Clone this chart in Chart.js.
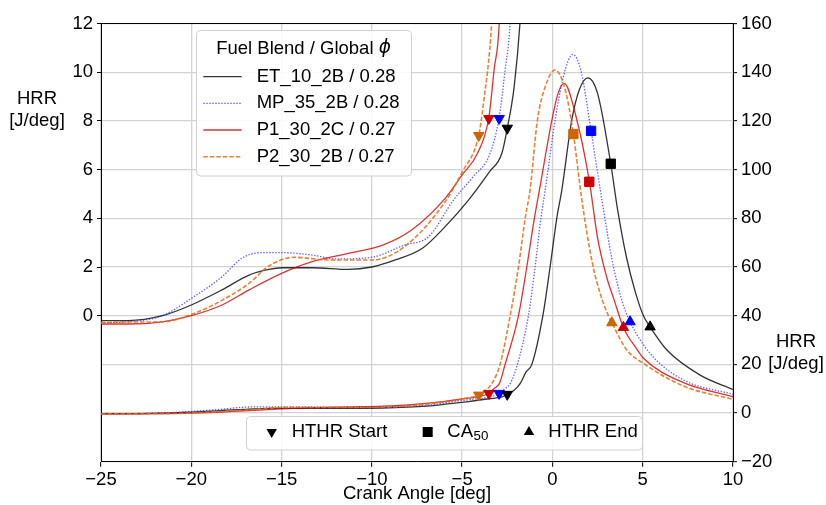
<!DOCTYPE html>
<html><head><meta charset="utf-8">
<script src="https://cdn.jsdelivr.net/npm/chart.js@4/dist/chart.umd.min.js"></script>
<style>html,body{margin:0;padding:0;background:#fff;}#wrap{width:826px;height:505px;}</style>
</head><body><div id="wrap"><canvas id="c" width="826" height="505"></canvas></div>
<script>
const FONT = '"Liberation Sans", Arial, Helvetica, sans-serif';
const FS = 18.5;

const fuelNames = ['ET_10_2B', 'MP_35_2B', 'P1_30_2C', 'P2_30_2B'];
const globalPhi = ['0.28', '0.28', '0.27', '0.27'];

const etAngle = [-25, -23.5, -21.6, -20, -18.3, -16.8, -15.7, -15, -13.3, -11.3, -10, -8.7, -7.2, -5.94, -4.65, -3.5, -2.8, -2.5, -2.12, -1.79, -1.45, -1.14, -0.53, -0.13, 0.24, 0.52, 1.07, 1.5, 1.96, 2.5, 3.23, 3.6, 4.1, 4.6, 5.04, 5.41, 6.34, 8.18, 10];
const etHRR = [-0.2, -0.2, 0, 0.44, 1.06, 1.67, 1.9, 1.97, 1.97, 1.9, 2.0, 2.29, 2.77, 3.66, 4.75, 5.9, 6.67, 7.7, 9.4, 12.1, 17, 20, 40, 60, 80, 91.6, 120.3, 133, 137.7, 131.3, 102.4, 84, 64, 49.5, 40, 35.4, 25.9, 15.6, 9.7];

const mpAngle = [-25, -23.5, -21.6, -20, -18.3, -17.2, -16.1, -15, -13.3, -12, -10, -8.2, -6.85, -5.48, -4.4, -3.45, -2.95, -2.62, -2.34, -1.94, -1.33, -0.96, -0.64, -0.4, 0.15, 0.6, 1.13, 1.6, 2.14, 2.74, 3.3, 3.84, 4.3, 5.41, 7.26, 10];
const mpHRR = [-0.29, -0.25, 0, 0.71, 1.6, 2.36, 2.59, 2.59, 2.49, 2.33, 2.4, 2.9, 3.25, 4.75, 5.7, 6.67, 8.15, 10.1, 12.1, 20, 40, 60, 80, 91.6, 120.3, 138, 147.3, 140, 115.9, 87.5, 63, 46.4, 37.5, 24.5, 13.6, 7.7];

const p1Angle = [-25, -23.5, -21.6, -20, -18.3, -16.8, -15, -13.3, -11.3, -9.4, -7.8, -5.94, -5.0, -4.15, -3.52, -3.23, -2.94, -2.62, -1.88, -1.42, -1.0, -0.72, -0.03, 0.3, 0.65, 1.3, 2.05, 2.5, 3.0, 3.42, 3.93, 4.71, 5.04, 7.26, 10];
const p1HRR = [-0.34, -0.34, -0.25, 0, 0.44, 1.06, 1.74, 2.22, 2.56, 2.9, 3.52, 4.82, 5.78, 6.67, 8.15, 10.1, 12.1, 20, 40, 60, 80, 91.6, 120.3, 131, 135.4, 122, 95, 72, 56, 46.4, 35.2, 25.9, 22.5, 12.5, 6.7];

const p2Angle = [-25, -23.5, -21.6, -20, -18.3, -16.8, -15.7, -14.3, -12.4, -10, -8.2, -5.94, -5.0, -4.08, -3.82, -3.36, -2.9, -2.34, -1.88, -1.51, -1.24, -0.83, -0.4, 0.15, 0.7, 1.16, 1.63, 2.2, 2.65, 3.1, 3.29, 4.12, 5.04, 7.26, 10];
const p2HRR = [-0.29, -0.26, -0.25, 0.05, 0.63, 1.33, 2.04, 2.4, 2.29, 2.29, 2.83, 4.68, 5.9, 7.42, 8.72, 12.1, 20, 40, 60, 80, 91.6, 120.3, 134, 140.9, 133, 114.6, 87.5, 62, 49, 40, 37.1, 25.9, 20.4, 11.1, 5.6];

const hthrStartAngle = [-2.5, -2.95, -3.52, -4.08];
const hthrStartHRR = [7.7, 8.1, 8.1, 7.4];
const ca50Angle = [3.23, 2.14, 2.04, 1.16];
const ca50HRR = [102.4, 115.9, 95, 114.6];
const hthrEndAngle = [5.41, 4.3, 3.93, 3.29];
const hthrEndHRR = [35.4, 37.5, 35.2, 37.1];

const xTickValues = [-25, -20, -15, -10, -5, 0, 5, 10];
const leftTickValues = [0, 2, 4, 6, 8, 10, 12];
const rightTickValues = [-20, 0, 20, 40, 60, 80, 100, 120, 140, 160];

const angles = [etAngle, mpAngle, p1Angle, p2Angle];
const hrrs = [etHRR, mpHRR, p1HRR, p2HRR];
const lineColors = ['rgba(0,0,0,0.8)', 'rgba(40,40,255,0.75)', 'rgba(210,0,0,0.8)', 'rgba(225,110,20,0.85)'];
const markerColors = ['#000000', '#0000ff', '#cc0000', '#cc6600'];
const dashes = [[], [1.4, 1.6], [], [4.5, 2]];
const widths = [1.3, 1.3, 1.3, 1.6];

function pts(xs, ys, filt) {
  const out = [];
  for (let i = 0; i < xs.length; i++) if (!filt || filt(xs[i])) out.push({x: xs[i], y: ys[i]});
  return out;
}
function markerDs(x, y, axis, color, style, rot, r) {
  return {data: [{x: x, y: y}], yAxisID: axis, showLine: false, pointStyle: style, rotation: rot,
    pointRadius: r, pointBackgroundColor: color, pointBorderColor: color, pointBorderWidth: 1,
    borderColor: color, backgroundColor: color};
}

const datasets = [];
for (let i = 0; i < 4; i++) {
  datasets.push(markerDs(hthrStartAngle[i], hthrStartHRR[i], 'yL', markerColors[i], 'triangle', 180, 6));
  datasets.push(markerDs(hthrStartAngle[i], hthrStartHRR[i], 'yR', markerColors[i], 'triangle', 180, 6));
  datasets.push(markerDs(ca50Angle[i], ca50HRR[i], 'yR', markerColors[i], 'rect', 0, 6.6));
  datasets.push(markerDs(hthrEndAngle[i], hthrEndHRR[i], 'yR', markerColors[i], 'triangle', 0, 6));
}
for (let i = 3; i >= 0; i--) {
  const common = {borderColor: lineColors[i], borderWidth: widths[i], borderDash: dashes[i], pointRadius: 0,
    fill: false, cubicInterpolationMode: 'monotone', borderCapStyle: 'butt'};
  datasets.push(Object.assign({label: fuelNames[i], data: pts(angles[i], hrrs[i], v => v < -1), yAxisID: 'yL'}, common));
  datasets.push(Object.assign({label: fuelNames[i], data: pts(angles[i], hrrs[i]), yAxisID: 'yR'}, common));
}

function fmt(v) { return v < 0 ? '\u2212' + Math.abs(v) : String(v); }

function tri(ctx, x, y, r, down) {
  ctx.beginPath();
  const s = down ? -1 : 1;
  ctx.moveTo(x, y - s * r);
  ctx.lineTo(x + r * 0.866, y + s * r * 0.5);
  ctx.lineTo(x - r * 0.866, y + s * r * 0.5);
  ctx.closePath();
  ctx.fill();
}
function rrect(ctx, x, y, w, h, r) {
  ctx.beginPath();
  ctx.moveTo(x + r, y); ctx.lineTo(x + w - r, y); ctx.arcTo(x + w, y, x + w, y + r, r);
  ctx.lineTo(x + w, y + h - r); ctx.arcTo(x + w, y + h, x + w - r, y + h, r);
  ctx.lineTo(x + r, y + h); ctx.arcTo(x, y + h, x, y + h - r, r);
  ctx.lineTo(x, y + r); ctx.arcTo(x, y, x + r, y, r); ctx.closePath();
}

const decor = {
  id: 'decor',
  afterDraw(chart) {
    const ctx = chart.ctx, a = chart.chartArea;
    ctx.save();
    ctx.strokeStyle = '#000'; ctx.lineWidth = 1;
    ctx.beginPath(); ctx.moveTo(a.left, a.top); ctx.lineTo(a.right, a.top); ctx.stroke();
    ctx.fillStyle = '#000';
    ctx.font = FS + 'px ' + FONT;
    ctx.textAlign = 'center'; ctx.textBaseline = 'middle';
    ctx.fillText('HRR', 37, 99.3);
    ctx.fillText('[J/deg]', 37, 120.5);
    ctx.fillText('HRR', 796, 341.5);
    ctx.fillText('[J/deg]', 796, 363.5);
    ctx.fillText('Crank Angle [deg]', 417, 493.5);

    rrect(ctx, 196.5, 30.5, 215, 145.5, 4);
    ctx.fillStyle = 'rgba(255,255,255,0.85)'; ctx.fill();
    ctx.strokeStyle = '#d0d0d0'; ctx.lineWidth = 1; ctx.stroke();
    ctx.fillStyle = '#000';
    ctx.textAlign = 'left';
    const t1 = 'Fuel Blend / Global ';
    ctx.font = FS + 'px ' + FONT;
    const w1 = ctx.measureText(t1).width;
    ctx.font = 'italic ' + FS + 'px "DejaVu Sans", sans-serif';
    const w2 = ctx.measureText('\u03D5').width;
    const sx = 303.5 - (w1 + w2) / 2;
    ctx.font = FS + 'px ' + FONT;
    ctx.fillText(t1, sx, 48.5);
    ctx.font = 'italic ' + FS + 'px "DejaVu Sans", sans-serif';
    ctx.fillText('\u03D5', sx + w1, 48.5);
    ctx.font = FS + 'px ' + FONT;
    const rows = [76.7, 103.3, 130, 156.7];
    for (let i = 0; i < 4; i++) {
      ctx.save();
      ctx.strokeStyle = lineColors[i]; ctx.lineWidth = widths[i]; ctx.setLineDash(dashes[i]);
      ctx.beginPath(); ctx.moveTo(203.3, rows[i]); ctx.lineTo(241.7, rows[i]); ctx.stroke();
      ctx.restore();
      ctx.fillText(fuelNames[i] + ' / ' + globalPhi[i], 256.7, rows[i]);
    }

    rrect(ctx, 246.5, 416.5, 396, 33.5, 4);
    ctx.fillStyle = 'rgba(255,255,255,0.85)'; ctx.fill();
    ctx.strokeStyle = '#d0d0d0'; ctx.stroke();
    ctx.fillStyle = '#000';
    const ly = 432;
    tri(ctx, 271.7, ly, 6, true);
    ctx.fillText('HTHR Start', 291.7, ly);
    ctx.fillRect(427.7 - 5, ly - 5, 10, 10);
    ctx.fillText('CA', 447.3, ly);
    const wca = ctx.measureText('CA').width;
    ctx.font = (FS * 0.72) + 'px ' + FONT;
    ctx.fillText('50', 447.3 + wca + 0.5, ly + 4);
    ctx.font = FS + 'px ' + FONT;
    tri(ctx, 529, ly, 6, false);
    ctx.fillText('HTHR End', 548.3, ly);
    ctx.restore();
  }
};

const tickFont = {family: FONT, size: FS};
new Chart(document.getElementById('c'), {
  type: 'line',
  data: {datasets: datasets},
  plugins: [decor],
  options: {
    responsive: false, animation: false, devicePixelRatio: 1, events: [],
    layout: {padding: {top: 23.5, left: 0, right: 0, bottom: 0}},
    plugins: {legend: {display: false}, tooltip: {enabled: false}, title: {display: false}},
    scales: {
      x: {type: 'linear', min: -25, max: 10,
        afterBuildTicks: s => { s.ticks = xTickValues.map(v => ({value: v})); },
        afterFit: s => { s.height = 43.2; },
        ticks: {font: tickFont, color: '#000', padding: 2, maxRotation: 0, autoSkip: false, callback: v => fmt(v)},
        grid: {color: '#d3d3d3', lineWidth: 1.3, tickColor: '#000', tickLength: 5, tickWidth: 1},
        border: {display: true, color: '#000', width: 1}},
      yL: {type: 'linear', position: 'left', min: -6, max: 12,
        afterBuildTicks: s => { s.ticks = leftTickValues.map(v => ({value: v})); },
        afterFit: s => { s.width = 101; },
        ticks: {font: tickFont, color: '#000', padding: 4, autoSkip: false, callback: v => fmt(v)},
        grid: {drawOnChartArea: false, color: '#d3d3d3', tickColor: '#000', tickLength: 4, tickWidth: 1},
        border: {display: true, color: '#000', width: 1}},
      yR: {type: 'linear', position: 'right', min: -20, max: 160,
        afterBuildTicks: s => { s.ticks = rightTickValues.map(v => ({value: v})); },
        afterFit: s => { s.width = 93; },
        ticks: {font: tickFont, color: '#000', padding: 4, autoSkip: false, callback: v => fmt(v)},
        grid: {drawOnChartArea: true, color: '#d3d3d3', lineWidth: 1.3, tickColor: '#000', tickLength: 4, tickWidth: 1},
        border: {display: true, color: '#000', width: 1}}
    }
  }
});
</script></body></html>
